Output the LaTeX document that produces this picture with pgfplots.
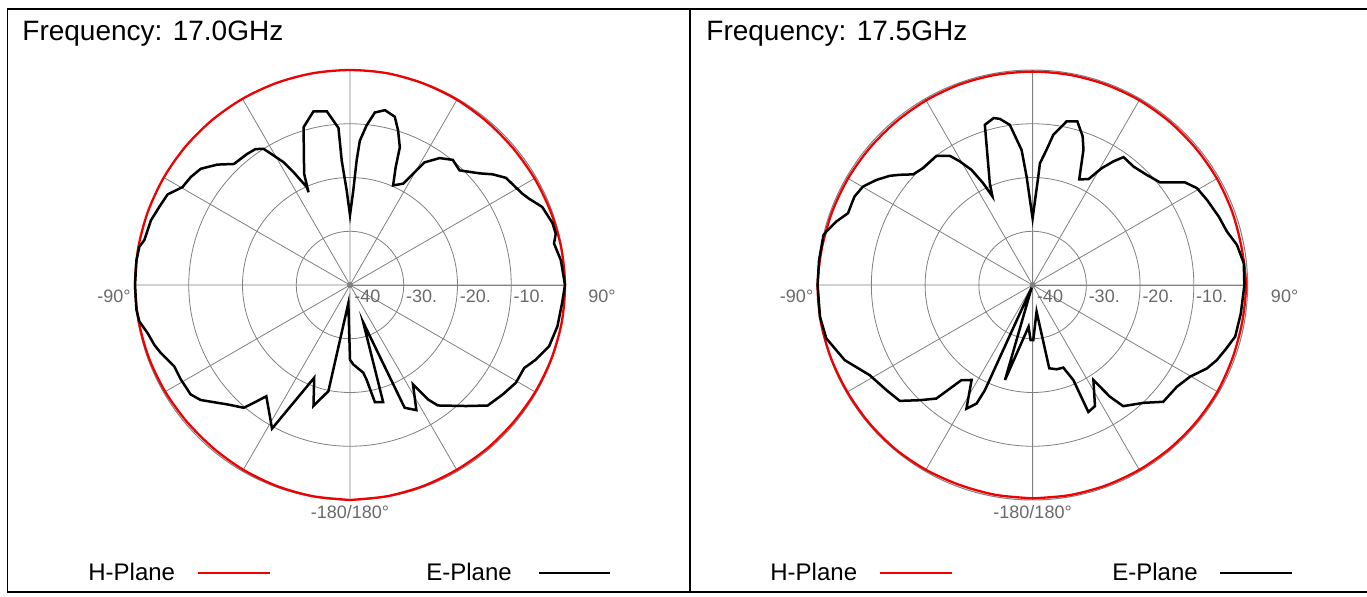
\documentclass[border=0pt]{standalone}
\usepackage{pgfplots}
\pgfplotsset{compat=1.18}
\usepgfplotslibrary{polar}
\usepackage{pgfplotstable}
\usepackage{fontspec}
\setmainfont{Liberation Sans}
\definecolor{gridgray}{RGB}{128,128,128}
\definecolor{labgray}{RGB}{105,105,105}
\definecolor{hred}{RGB}{240,0,0}

% theta (deg, clockwise from top), level (dB)
\pgfplotstableread{
t d
-180 -26.1
-174.8 -36.6
-168.5 -19.85
-163.2 -16.5
-158.9 -21.5
-151.5 -9.6
-143.05 -14.1
-141.3 -12.3
-139.15 -9.8
-134.2 -8.14
-127.6 -4.93
-124.5 -4.04
-119.2 -3.94
-114.8 -3.96
-109.8 -2.6
-107 -1.93
-103.4 -1.3
-99.8 -0.22
-96.6 0
-90 0
-83.4 0
-79.7 -0.17
-77.7 -0.83
-72.0 -1.06
-67.8 -1.65
-63.6 -2.1
-59.7 -3.9
-55.9 -4.2
-52.1 -4.8
-47.8 -6.65
-43.8 -8.8
-38.1 -9.0
-34.8 -9.2
-32.4 -10.0
-30.5 -12.05
-28.4 -14.04
-26.6 -16.5
-23.8 -20.1
-24.1 -21.1
-22.4 -17.6
-16.4 -9.4
-11.9 -7.0
-7.6 -7.4
-4.2 -10.7
-3.8 -16.8
-2.0 -22.4
0 -27.0
2.0 -22.4
3.05 -16.8
3.9 -13.1
5.9 -10.2
8.2 -7.57
11.3 -6.83
14.9 -7.6
17.3 -9.9
19.9 -12.76
21.2 -16.5
23.4 -19.8
27.7 -18.7
29.6 -16.2
31.3 -13.3
35.2 -11.1
39.4 -9.87
43.7 -10.5
49.2 -8.2
52.2 -6.4
55.5 -4.8
62.1 -3.7
64.3 -3.0
67.9 -1.4
73.0 -0.6
76.0 -0.55
78.5 -1.26
83.3 -0.5
90 0
94.9 -0.4
101.3 -0.65
107.1 -1.24
111.9 -2.75
115.5 -4.1
120.5 -4.17
125.7 -5.05
131.2 -5.96
136.2 -8.8
143.9 -12.26
145.7 -14.2
147.65 -18.1
152.05 -13.65
156.0 -15.0
160.5 -32.6
164.2 -17.35
168.0 -17.7
170.05 -22.1
171.4 -23.5
177.6 -25.2
180 -26.1
}\EA

\pgfplotstableread{
t d
-180 0
-170 -0.1
-160 -0.2
-150 -0.3
-140 -0.4
-130 -0.4
-120 -0.3
-110 -0.2
-100 -0.1
-90 0
-80 0
-70 0
-60 0
-50 0
-40 0
-30 0
-20 0
-10 0
0 0
10 0
20 -0.1
30 -0.2
40 -0.35
50 -0.4
60 -0.35
70 -0.25
80 -0.1
90 0
100 0
110 -0.1
120 -0.2
130 -0.3
140 -0.3
150 -0.3
160 -0.2
170 -0.1
180 0
}\HA

\pgfplotstableread{
t d
-180 -29.75
-177.9 -29.75
-174.5 -32.2
-163.8 -21.6
-160 -39.5
-155.6 -18.5
-154.7 -15.6
-151.85 -13.9
-147.3 -19.0
-143.2 -17.9
-139.7 -12.3
-135.6 -10.0
-131.1 -7.2
-125.7 -6.5
-118.95 -5.35
-111.8 -2.35
-104.5 -0.35
-98.5 0
-90 0
-83.4 0
-76.6 0
-75.5 -0.35
-72.1 -1.6
-68.75 -3.15
-66.2 -3.1
-63.6 -3.0
-59.9 -3.5
-56.1 -4.96
-52.6 -6.55
-50.3 -7.9
-47.2 -9.7
-43.1 -10.2
-36.7 -10.05
-32.65 -11.45
-30.5 -13.3
-27.95 -15.75
-25.9 -18.95
-24.4 -21.9
-22.8 -19.45
-16.6 -8.9
-13.1 -8.1
-11.15 -8.5
-8.1 -9.9
-4.66 -14.8
-3.17 -19.8
0 -27.6
3.0 -19.8
3.45 -17.3
5.9 -14.7
7.85 -11.8
11.75 -8.9
15.3 -8.45
18.6 -10.8
20.6 -13.1
23.8 -18.5
27.8 -17.75
30.6 -14.75
33.2 -12.5
35.4 -10.8
40.4 -11.05
46.0 -10.5
51.2 -9.55
56.1 -5.8
59.5 -4.5
63.95 -3.9
69.8 -3.1
74.6 -2.5
78.9 -1.25
84.1 -0.5
90 -0.6
91.4 -0.7
97.8 -0.9
104.3 -1.1
108.7 -2.2
112.2 -3.0
115.6 -4.05
120.2 -6.1
125.2 -7.15
131.8 -7.4
136.75 -9.9
143.2 -11.85
145.3 -14.7
147.4 -19.0
152.75 -14.65
156.3 -14.2
156.8 -20.75
159.6 -23.6
164.1 -23.7
168.7 -24.2
171.5 -35
179.3 -29.75
180 -29.75
}\EB

\pgfplotstableread{
t d
-180 -0.3
-170 -0.35
-160 -0.4
-150 -0.3
-140 -0.2
-130 -0.2
-120 -0.2
-110 -0.1
-100 0
-90 0
-80 -0.2
-70 -0.3
-60 -0.35
-50 -0.4
-40 -0.4
-30 -0.35
-20 -0.3
-10 -0.3
0 -0.3
10 -0.3
20 -0.3
30 -0.3
40 -0.35
50 -0.4
60 -0.4
70 -0.45
80 -0.5
90 -0.3
100 -0.4
110 -0.4
120 -0.3
130 -0.3
140 -0.3
150 -0.3
160 -0.3
170 -0.3
180 -0.3
}\HB

\pgfplotsset{
  mypolar/.style={
    width=215pt, height=215pt, scale only axis,
    ymin=0, ymax=40,
    xtick={0,30,...,330}, ytick={10,20,30},
    xticklabels={}, yticklabels={},
    grid=major,
    major grid style={draw=gridgray, line width=0.4pt},
    axis line style={draw=gridgray, line width=0.5pt},
    major tick length=0pt,
    clip=false,
    anchor=center,
  },
  hplane/.style={draw=hred, line width=1.15pt, no markers, smooth},
  eplane/.style={draw=black, line width=1.25pt, no markers},
}
\tikzset{rlab/.style={font=\fontsize{9}{10}\selectfont, text=labgray, inner sep=0pt}}

\newcommand{\polarlabels}{%
  \fill[gridgray] (axis cs:0,0) circle (1.4pt);
  \node[rlab, anchor=north west] at ([shift={(2pt,-2.2pt)}]axis cs:0,0) {-40};
  \node[rlab, anchor=north west] at ([shift={(1pt,-2.2pt)}]axis cs:0,10) {-30.};
  \node[rlab, anchor=north west] at ([shift={(1pt,-2.2pt)}]axis cs:0,20) {-20.};
  \node[rlab, anchor=north west] at ([shift={(1pt,-2.2pt)}]axis cs:0,30) {-10.};
  \node[rlab, anchor=north west] at ([shift={(11.5pt,-2.2pt)}]axis cs:0,40) {90°};
  \node[rlab, anchor=north east] at ([shift={(-2pt,-2.2pt)}]axis cs:180,40) {-90°};
  \node[rlab, anchor=north] at ([shift={(0pt,-2.5pt)}]axis cs:270,40) {-180/180°};
}

\begin{document}
\begin{tikzpicture}
\path[use as bounding box] (0,0) rectangle (683.5pt,298pt);

% frame
\draw[black, line width=0.9pt] (683.5pt,293.5pt) -- (3.75pt,293.5pt) -- (3.75pt,2pt) -- (683.5pt,2pt);
\draw[black, line width=0.9pt] (345pt,2pt) -- (345pt,293.5pt);

% titles
\node[anchor=west, inner sep=0pt, font=\fontsize{14}{16}\selectfont] at (11pt,281pt) {Frequency: 17.0GHz};
\node[anchor=west, inner sep=0pt, font=\fontsize{14}{16}\selectfont] at (353pt,281pt) {Frequency: 17.5GHz};

% legends
\node[anchor=west, inner sep=0pt, font=\fontsize{12}{14}\selectfont] at (44pt,12pt) {H-Plane};
\draw[hred, line width=1pt] (99pt,11.5pt) -- (135pt,11.5pt);
\node[anchor=west, inner sep=0pt, font=\fontsize{12}{14}\selectfont] at (213pt,12pt) {E-Plane};
\draw[black, line width=1pt] (269.5pt,11.5pt) -- (305pt,11.5pt);

\node[anchor=west, inner sep=0pt, font=\fontsize{12}{14}\selectfont] at (385pt,12pt) {H-Plane};
\draw[hred, line width=1pt] (440pt,11.5pt) -- (476pt,11.5pt);
\node[anchor=west, inner sep=0pt, font=\fontsize{12}{14}\selectfont] at (556pt,12pt) {E-Plane};
\draw[black, line width=1pt] (610pt,11.5pt) -- (646pt,11.5pt);

\begin{polaraxis}[mypolar, at={(175pt,155.5pt)}]
  \addplot[hplane] table[x expr={90-\thisrow{t}}, y expr={\thisrow{d}+40}] {\HA};
  \addplot[eplane] table[x expr={90-\thisrow{t}}, y expr={\thisrow{d}+40}] {\EA};
  \polarlabels
\end{polaraxis}

\begin{polaraxis}[mypolar, at={(516.3pt,155.5pt)}]
  \addplot[hplane] table[x expr={90-\thisrow{t}}, y expr={\thisrow{d}+40}] {\HB};
  \addplot[eplane] table[x expr={90-\thisrow{t}}, y expr={\thisrow{d}+40}] {\EB};
  \polarlabels
\end{polaraxis}
\end{tikzpicture}
\end{document}
